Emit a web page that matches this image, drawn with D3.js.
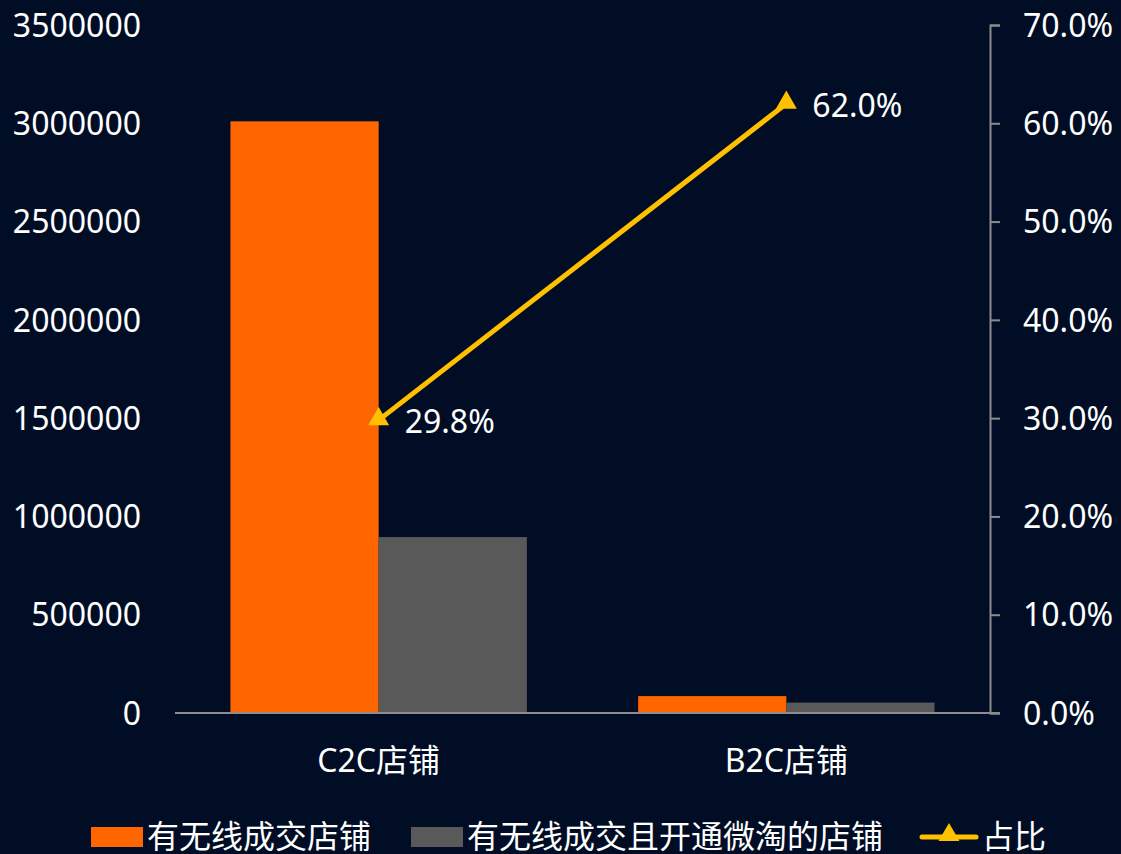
<!DOCTYPE html>
<meta charset="utf-8">
<style>
body { margin: 0; background: #000d24; }
svg text { font-family: "Noto Sans", "Noto Sans CJK SC", sans-serif; fill: #fff; }
</style>
<svg width="1121" height="854"></svg>
<script src="https://cdn.jsdelivr.net/npm/d3@7"></script>
<script>
// data
var categories = ["C2C店铺", "B2C店铺"];
var seriesNames = ["有无线成交店铺", "有无线成交且开通微淘的店铺"];
var wireless = [3010000, 86000];
var weitao = [895000, 53000];
var ratio = [0.298, 0.62];
var lineName = "占比";
var leftTicks = [0, 500000, 1000000, 1500000, 2000000, 2500000, 3000000, 3500000];
var rightTicks = [0, 0.1, 0.2, 0.3, 0.4, 0.5, 0.6, 0.7];

var colors = ["#ff6600", "#595959"], lineColor = "#ffc000", axisColor = "#8c8c8c";

var svg = d3.select("svg");
svg.append("rect").attr("width", 1121).attr("height", 854).attr("fill", "#000d24");

var pLeft = 175, pRight = 990, pTop = 25, pBottom = 713;

var x = d3.scaleBand().domain(categories).range([pLeft, pRight]).paddingInner(0.273).paddingOuter(0.136);
var yL = d3.scaleLinear().domain([0, 3500000]).range([pBottom, pTop]);
var yR = d3.scaleLinear().domain([0, 0.7]).range([pBottom, pTop]);

// left axis: labels only
var la = svg.append("g").attr("transform", "translate(" + pLeft + ",0)")
  .call(d3.axisLeft(yL).tickValues(leftTicks).tickFormat(d3.format("d")).tickSize(0).tickPadding(34));
la.select(".domain").remove();
la.selectAll("text").attr("font-size", 32).attr("fill", "#fff").attr("dy", "0.35em");

// right axis
var ra = svg.append("g").attr("transform", "translate(" + pRight + ",0)")
  .call(d3.axisRight(yR).tickValues(rightTicks).tickFormat(d3.format(".1%")).tickSizeInner(10).tickSizeOuter(10).tickPadding(23));
ra.select(".domain").attr("stroke", axisColor).attr("stroke-width", 2);
ra.selectAll("line").attr("stroke", axisColor).attr("stroke-width", 2);
ra.selectAll("text").attr("font-size", 32).attr("fill", "#fff").attr("dy", "0.35em");

// bars
var inner = d3.scaleBand().domain([0, 1]).range([0, x.bandwidth()]);
var series = [wireless, weitao];
series.forEach(function(vals, si) {
  svg.append("g").selectAll("rect").data(vals).join("rect")
    .attr("x", function(d, i) { return x(categories[i]) + inner(si); })
    .attr("y", function(d) { return yL(d); })
    .attr("width", inner.bandwidth())
    .attr("height", function(d) { return pBottom - yL(d); })
    .attr("fill", colors[si]);
});

// bottom axis
var ba = svg.append("g").attr("transform", "translate(0," + pBottom + ")")
  .call(d3.axisBottom(x).tickSize(0).tickPadding(36));
ba.select(".domain").attr("d", "M" + pLeft + ",0H" + (pRight + 10)).attr("stroke", axisColor).attr("stroke-width", 2);
ba.selectAll("text").attr("font-size", 32).attr("fill", "#fff");

// ratio line
var cx = function(d, i) { return x(categories[i]) + x.bandwidth() / 2; };
svg.append("path").datum(ratio)
  .attr("d", d3.line().x(cx).y(function(d) { return yR(d); }))
  .attr("fill", "none").attr("stroke", lineColor).attr("stroke-width", 5);
var tri = d3.symbol().type(d3.symbolTriangle).size(190);
svg.append("g").selectAll("path").data(ratio).join("path")
  .attr("d", tri)
  .attr("transform", function(d, i) { return "translate(" + cx(d, i) + "," + (yR(d) - 1) + ")"; })
  .attr("fill", lineColor);
svg.append("g").selectAll("text").data(ratio).join("text")
  .attr("x", function(d, i) { return cx(d, i) + 26; })
  .attr("y", function(d) { return yR(d) + 2; })
  .attr("dy", "0.35em")
  .attr("font-size", 32)
  .text(d3.format(".1%"));

// legend
var lg = svg.append("g").attr("transform", "translate(0,837)");
var items = [
  { x: 91, type: "rect", color: colors[0], label: seriesNames[0] },
  { x: 411, type: "rect", color: colors[1], label: seriesNames[1] },
  { x: 922, type: "line", color: lineColor, label: lineName }
];
items.forEach(function(it) {
  if (it.type == "rect") {
    lg.append("rect").attr("x", it.x).attr("y", -10).attr("width", 52).attr("height", 20).attr("fill", it.color);
  } else {
    lg.append("line").attr("x1", it.x).attr("x2", it.x + 54).attr("stroke", it.color).attr("stroke-width", 5).attr("stroke-linecap", "round");
    lg.append("path").attr("d", tri).attr("transform", "translate(" + (it.x + 27) + ",-2)").attr("fill", it.color);
  }
  lg.append("text").attr("x", it.x + (it.type == "rect" ? 56 : 60)).attr("dy", "0.35em").attr("font-size", 32).text(it.label);
});
</script>
